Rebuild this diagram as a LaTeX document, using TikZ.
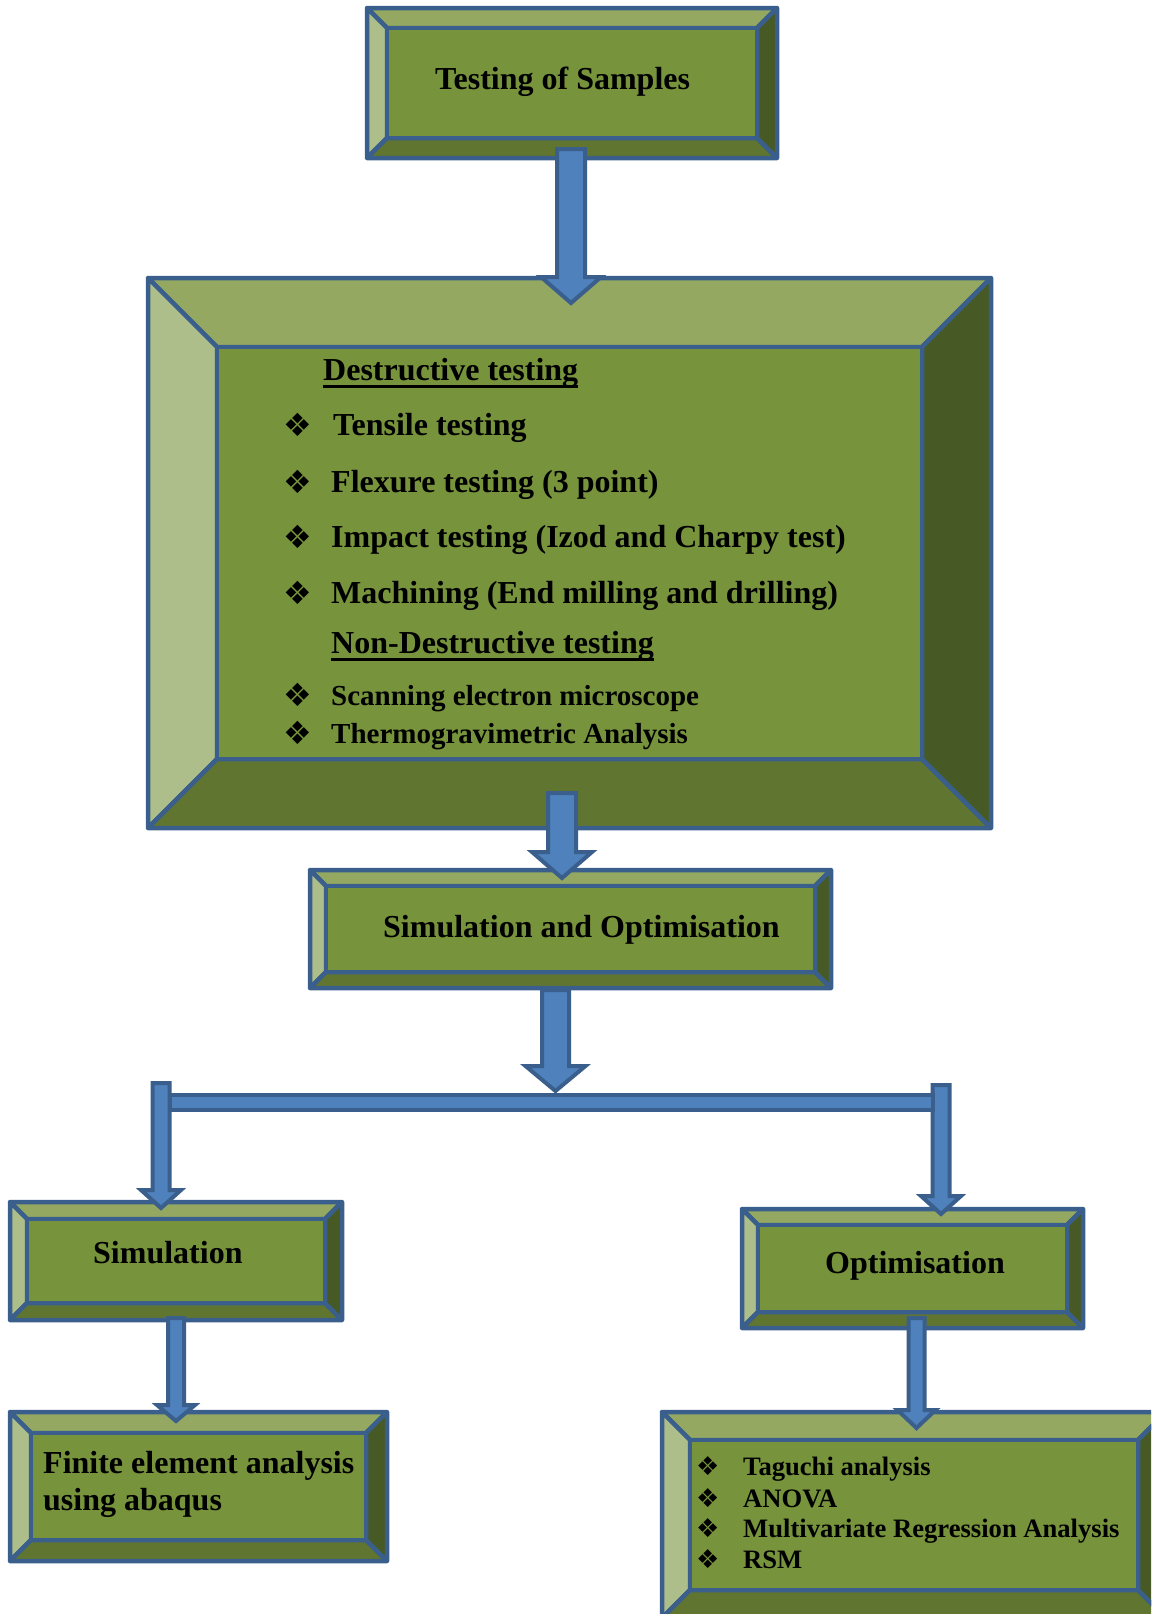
\documentclass[tikz,border=0pt]{standalone}
\usepackage{fontspec}
\setmainfont{Liberation Serif}
\newfontfamily\symfont{DejaVu Sans}
\newcommand\myul[1]{\setbox0\hbox{#1}\rlap{\rule[-7.5pt]{\wd0}{3pt}}\box0}
\usetikzlibrary{calc}
\definecolor{facec}{HTML}{77933C}
\definecolor{topc}{HTML}{94A862}
\definecolor{leftc}{HTML}{ADBE8A}
\definecolor{botc}{HTML}{607530}
\definecolor{rightc}{HTML}{475A25}
\definecolor{edgec}{HTML}{3A5F8C}
\definecolor{arrowc}{HTML}{4F81BD}
\tikzset{
  bevel/.style={draw=edgec, line width=4.5pt, line join=round},
  txt/.style={anchor=base west, inner sep=0pt, font=\bfseries\fontsize{32}{38}\selectfont},
  midtxt/.style={anchor=base west, inner sep=0pt, font=\bfseries\fontsize{29}{34}\selectfont},
  smtxt/.style={anchor=base west, inner sep=0pt, font=\bfseries\fontsize{26.6}{30}\selectfont},
  bul/.style={anchor=south west, inner sep=0pt, font=\symfont\fontsize{32}{32}\selectfont},
  smbul/.style={anchor=south west, inner sep=0pt, font=\symfont\fontsize{26}{26}\selectfont},
  blockarrow/.style={draw=edgec, fill=arrowc, line width=4pt, line join=miter},
}
% name, x1, y1, x2, y2, bevel
\newcommand\bevelbox[6]{%
  \draw[bevel,fill=topc] (#2,#3) -- (#4,#3) -- (#4-#6,#3+#6) -- (#2+#6,#3+#6) -- cycle;
  \draw[bevel,fill=leftc] (#2,#3) -- (#2+#6,#3+#6) -- (#2+#6,#5-#6) -- (#2,#5) -- cycle;
  \draw[bevel,fill=botc] (#2,#5) -- (#2+#6,#5-#6) -- (#4-#6,#5-#6) -- (#4,#5) -- cycle;
  \draw[bevel,fill=rightc] (#4,#3) -- (#4,#5) -- (#4-#6,#5-#6) -- (#4-#6,#3+#6) -- cycle;
  \node[bevel,fill=facec,rectangle,inner sep=0pt,outer sep=0pt,
        minimum width={(#4-#2-2*#6)*1pt},minimum height={(#5-#3-2*#6)*1pt}]
        (#1) at ({(#2+#4)/2},{(#3+#5)/2}) {};
}
% start coord, tip coord, half shaft, half head, head length
\newcommand\barrow[5]{%
  \draw[blockarrow] let \p1=(#1), \p2=(#2) in
    (\x1-#3pt,\y1) -- (\x1+#3pt,\y1) -- (\x1+#3pt,\y2+#5pt) -- (\x1+#4pt,\y2+#5pt)
    -- (\x1,\y2) -- (\x1-#4pt,\y2+#5pt) -- (\x1-#3pt,\y2+#5pt) -- cycle;
}
\begin{document}
\begin{tikzpicture}[x=1pt,y=-1pt]
\useasboundingbox (0,0) rectangle (1151,1614);
\clip (0,0) rectangle (1151,1614);

\bevelbox{b1}{367}{8}{777}{158}{20}
\bevelbox{b2}{148}{278}{991}{828}{69}
\bevelbox{b3}{310}{870}{831}{988}{16}
\bevelbox{b4}{10}{1202}{342}{1320}{17}
\bevelbox{b5}{10}{1412}{387}{1561}{21}
\bevelbox{b6}{742}{1209}{1083}{1328}{16}
\bevelbox{b7}{662}{1412}{1166}{1618}{28}

% texts
\node[txt] (t1) at (435,89) {Testing of Samples};
\node[txt] (h1) at (323,380) {\myul{Destructive testing}};
\node[bul] (d1b) at (283,437) {❖};
\node[txt] (d1) at (333,435) {Tensile testing};
\node[bul] (d2b) at (283,494) {❖};
\node[txt] (d2) at (331,492) {Flexure testing (3 point)};
\node[bul] (d3b) at (283,549) {❖};
\node[txt] (d3) at (331,547) {Impact testing (Izod and Charpy test)};
\node[bul] (d4b) at (283,605) {❖};
\node[txt] (d4) at (331,603) {Machining (End milling and drilling)};
\node[txt] (h2) at (331,653) {\myul{Non-Destructive testing}};
\node[bul] (n1b) at (283,707) {❖};
\node[midtxt] (n1) at (331,705) {Scanning electron microscope};
\node[bul] (n2b) at (283,745) {❖};
\node[midtxt] (n2) at (331,743) {Thermogravimetric Analysis};
\node[txt] (t3) at (383,937) {Simulation and Optimisation};
\node[txt] (t4) at (93,1263) {Simulation};
\node[txt] (t5a) at (43,1473) {Finite element analysis};
\node[txt] (t5b) at (43,1510) {using abaqus};
\node[txt] (t6) at (825,1273) {Optimisation};
\node[smbul] (o1b) at (696,1476) {❖};
\node[smtxt] (o1) at (743,1475) {Taguchi analysis};
\node[smbul] (o2b) at (696,1508) {❖};
\node[smtxt] (o2) at (743,1507) {ANOVA};
\node[smbul] (o3b) at (696,1538) {❖};
\node[smtxt] (o3) at (743,1537) {Multivariate Regression Analysis};
\node[smbul] (o4b) at (696,1569) {❖};
\node[smtxt] (o4) at (743,1568) {RSM};

% connector end points, tied to the boxes
\coordinate (a1s) at ($(b1.south)+(-1,11)$);
\coordinate (a1e) at ($(b2.north)+(1.5,-44)$);
\coordinate (a2s) at ($(b2.south)+(-7.5,34)$);
\coordinate (a2e) at ($(b3.north)+(-8.5,-8)$);
\coordinate (a3s) at ($(b3.south)+(-15,18)$);
\coordinate (a3e) at ($(b3.south)+(-15,119)$);
\coordinate (jl) at ($(b4.north)+(-15,-136)$);
\coordinate (jle) at ($(b4.north)+(-15,-11)$);
\coordinate (jr) at ($(b6.north)+(28.5,-140)$);
\coordinate (jre) at ($(b6.north)+(28.5,-11)$);
\coordinate (a4s) at ($(b4.south)+(0,15)$);
\coordinate (a4e) at ($(b5.north)+(-22.5,-12)$);
\coordinate (a5s) at ($(b6.south)+(4,6)$);
\coordinate (a5e) at ($(b7.north)+(2.5,-12)$);

\barrow{a1s}{a1e}{14}{30}{26}
\barrow{a2s}{a2e}{14}{30}{26}
\barrow{a3s}{a3e}{13.5}{30}{25}
\barrow{jl}{jle}{8.5}{20}{18}
\barrow{jr}{jre}{8.5}{20}{18}
\draw[blockarrow] ($(jl)+(8.5,12)$) rectangle ($(jr)+(-8.5,25)$);
\barrow{a4s}{a4e}{8}{19}{16}
\barrow{a5s}{a5e}{8}{19}{18}
\end{tikzpicture}
\end{document}
